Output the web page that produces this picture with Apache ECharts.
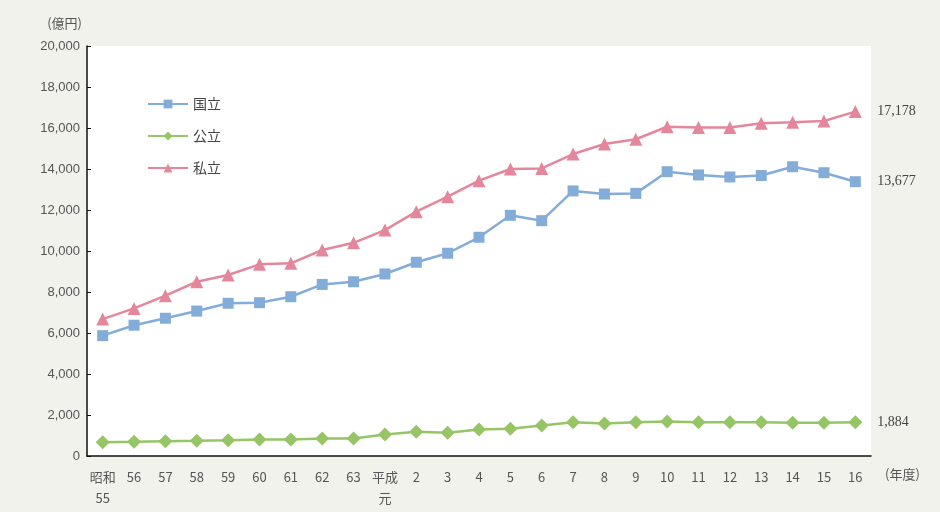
<!DOCTYPE html>
<html>
<head>
<meta charset="utf-8">
<script src="https://cdn.jsdelivr.net/npm/echarts@6/dist/echarts.min.js"></script>
<style>
  html, body { margin: 0; padding: 0; background: #f1f2ec; }
  #main { width: 940px; height: 512px; }
</style>
</head>
<body>
<div id="main"></div>
<script>
//-----------------------------------------------------= データ =-----------------------------------------
var categories = ['昭和\n55', '56', '57', '58', '59', '60', '61', '62', '63', '平成\n元',
  '2', '3', '4', '5', '6', '7', '8', '9', '10', '11', '12', '13', '14', '15', '16'];

var kokuritsu = [5870, 6380, 6720, 7070, 7450, 7480, 7770, 8370, 8500, 8880,
  9450, 9890, 10670, 11740, 11480, 12930, 12780, 12810, 13870, 13710, 13610, 13680, 14110, 13820, 13380];
var kouritsu = [675, 690, 720, 740, 770, 805, 800, 850, 850, 1050,
  1180, 1130, 1290, 1325, 1490, 1650, 1585, 1650, 1680, 1650, 1650, 1650, 1620, 1620, 1650];
var shiritsu = [6680, 7200, 7820, 8500, 8830, 9350, 9400, 10050, 10400, 11020,
  11920, 12650, 13430, 14000, 14030, 14730, 15220, 15450, 16060, 16020, 16020, 16230, 16280, 16340, 16800];

var seriesNames = ['国立', '公立', '私立'];
var endLabels = ['13,677', '1,884', '17,178'];

//-----------------------------------------------------= チャート =-----------------------------------------
var chartObj = echarts.init(document.getElementById('main'));

var textColor = '#555';

function makeSeries(idx, data, color, symbol, size) {
  return {
    name: seriesNames[idx],
    type: 'line',
    data: data,
    symbol: symbol,
    symbolSize: size,
    lineStyle: { color: color, width: 2.5 },
    itemStyle: { color: color },
    endLabel: {
      show: true,
      distance: 22,
      formatter: function () { return endLabels[idx]; },
      fontFamily: 'Liberation Serif',
      fontSize: 14,
      color: '#444'
    },
    animation: false
  };
}

var option = {
  backgroundColor: '#f1f2ec',
  grid: {
    left: 87, right: 69, top: 46, bottom: 56,
    show: true, backgroundColor: '#ffffff', borderWidth: 0
  },
  legend: {
    orient: 'vertical',
    left: 142, top: 92,
    itemWidth: 40, itemHeight: 11,
    itemGap: 18,
    data: seriesNames,
    textStyle: { fontFamily: 'Noto Sans CJK JP', fontSize: 14, color: '#444' }
  },
  xAxis: {
    type: 'category',
    data: categories,
    boundaryGap: true,
    name: '(年度)',
    nameLocation: 'end',
    nameGap: 14,
    nameTextStyle: {
      color: textColor, fontFamily: 'Noto Sans CJK JP', fontSize: 13,
      verticalAlign: 'top', padding: [12, 0, 0, 0]
    },
    axisLine: { lineStyle: { color: '#111', width: 1.5 } },
    axisTick: { inside: true, length: 4, lineStyle: { color: '#111' } },
    axisLabel: {
      margin: 11, color: textColor, fontSize: 13, lineHeight: 21,
      fontFamily: 'Noto Sans CJK JP', interval: 0
    }
  },
  yAxis: {
    type: 'value',
    min: 0, max: 20000, interval: 2000,
    name: '(億円)',
    nameLocation: 'end',
    nameGap: 16,
    nameTextStyle: {
      color: textColor, fontFamily: 'Noto Sans CJK JP', fontSize: 13,
      align: 'right', padding: [0, 5, 0, 0]
    },
    splitLine: { show: false },
    axisLine: { show: true, lineStyle: { color: '#111', width: 1.5 } },
    axisTick: { show: true, inside: true, length: 4, lineStyle: { color: '#111' } },
    axisLabel: {
      margin: 7, color: textColor, fontSize: 13, fontFamily: 'Liberation Sans',
      formatter: function (v) { return v.toLocaleString('en-US'); }
    }
  },
  series: [
    makeSeries(0, kokuritsu, '#84acd9', 'rect', 11),
    makeSeries(1, kouritsu, '#96c566', 'diamond', 14),
    makeSeries(2, shiritsu, '#e4879c', 'triangle', 13)
  ]
};

chartObj.setOption(option);
</script>
</body>
</html>
